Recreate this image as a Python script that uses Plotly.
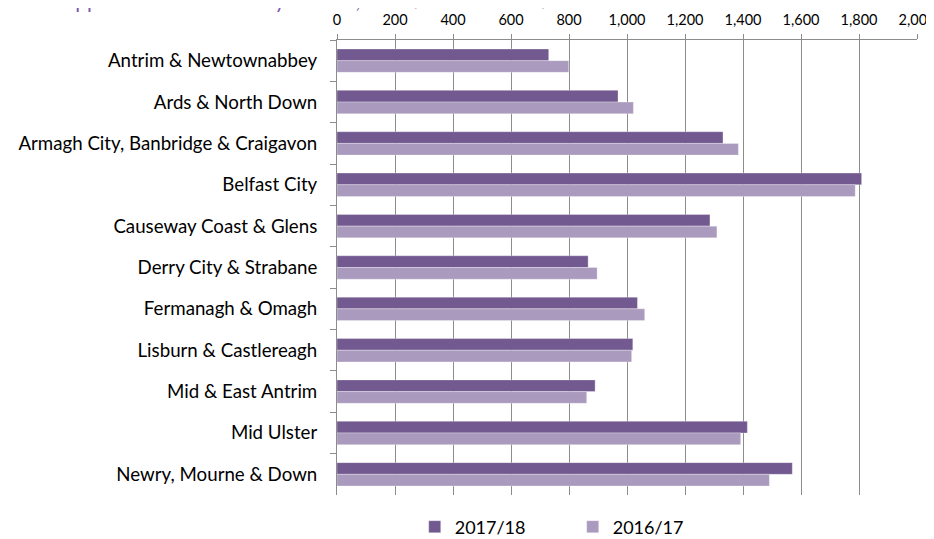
import plotly.graph_objects as go

councils = [
    "Antrim & Newtownabbey",
    "Ards & North Down",
    "Armagh City, Banbridge & Craigavon",
    "Belfast City",
    "Causeway Coast & Glens",
    "Derry City & Strabane",
    "Fermanagh & Omagh",
    "Lisburn & Castlereagh",
    "Mid & East Antrim",
    "Mid Ulster",
    "Newry, Mourne & Down",
]
values_2017_18 = [730, 969, 1331, 1809, 1286, 866, 1036, 1020, 890, 1415, 1570]
values_2016_17 = [799, 1022, 1384, 1787, 1310, 897, 1061, 1016, 861, 1392, 1491]
series_names = ["2017/18", "2016/17"]
x_ticks = [0, 200, 400, 600, 800, 1000, 1200, 1400, 1600, 1800, 2000]
title_text = "Applications received by council, 2016/17 and 2017/18"

dark = "#72598F"
light = "#AA9ABE"
font_family = "Lato, 'Open Sans', sans-serif"

fig = go.Figure()
fig.add_trace(go.Bar(
    y=councils, x=values_2017_18, name=series_names[0], orientation="h",
    marker=dict(color=dark, line=dict(color="rgba(255,255,255,0.6)", width=0.5)),
))
fig.add_trace(go.Bar(
    y=councils, x=values_2016_17, name=series_names[1], orientation="h",
    marker=dict(color=light, line=dict(color="rgba(255,255,255,0.6)", width=0.5)),
))

fig.update_layout(
    width=926, height=531,
    margin=dict(l=329, r=17, t=32, b=44, autoexpand=False),
    paper_bgcolor="white", plot_bgcolor="white",
    barmode="group", bargap=0.435, bargroupgap=0,
    font=dict(family=font_family, color="#000000", size=15),
    showlegend=True,
    legend=dict(
        orientation="h", x=0.134, xanchor="left", y=-0.0703, yanchor="middle",
        font=dict(size=18, color="#000000"), itemwidth=30, entrywidth=113,
        traceorder="normal",
    ),
    annotations=[dict(
        text=title_text, xref="paper", yref="paper", x=-0.48, xanchor="left",
        y=1.057, yanchor="bottom", showarrow=False,
        font=dict(size=21, color="#7B57B2", family=font_family),
    )],
)

fig.update_xaxes(
    side="top", range=[0, 2000], tickvals=x_ticks,
    tickformat=",d", showgrid=True, gridcolor="#8C8C8C", gridwidth=1,
    showline=True, linecolor="#8C8C8C", linewidth=1,
    ticks="outside", ticklen=5, tickcolor="#8C8C8C",
    tickfont=dict(size=14.5, color="#000000"), zeroline=False,
    ticklabelstandoff=3, ticklabeloverflow="allow",
)
fig.update_yaxes(
    autorange="reversed", showline=True, linecolor="#8C8C8C", linewidth=1,
    ticks="outside", ticklen=6, tickcolor="#8C8C8C", tickson="boundaries",
    showgrid=False, tickfont=dict(size=18.7, color="#000000"),
    ticklabelstandoff=15,
)

fig.write_html("out.html")
